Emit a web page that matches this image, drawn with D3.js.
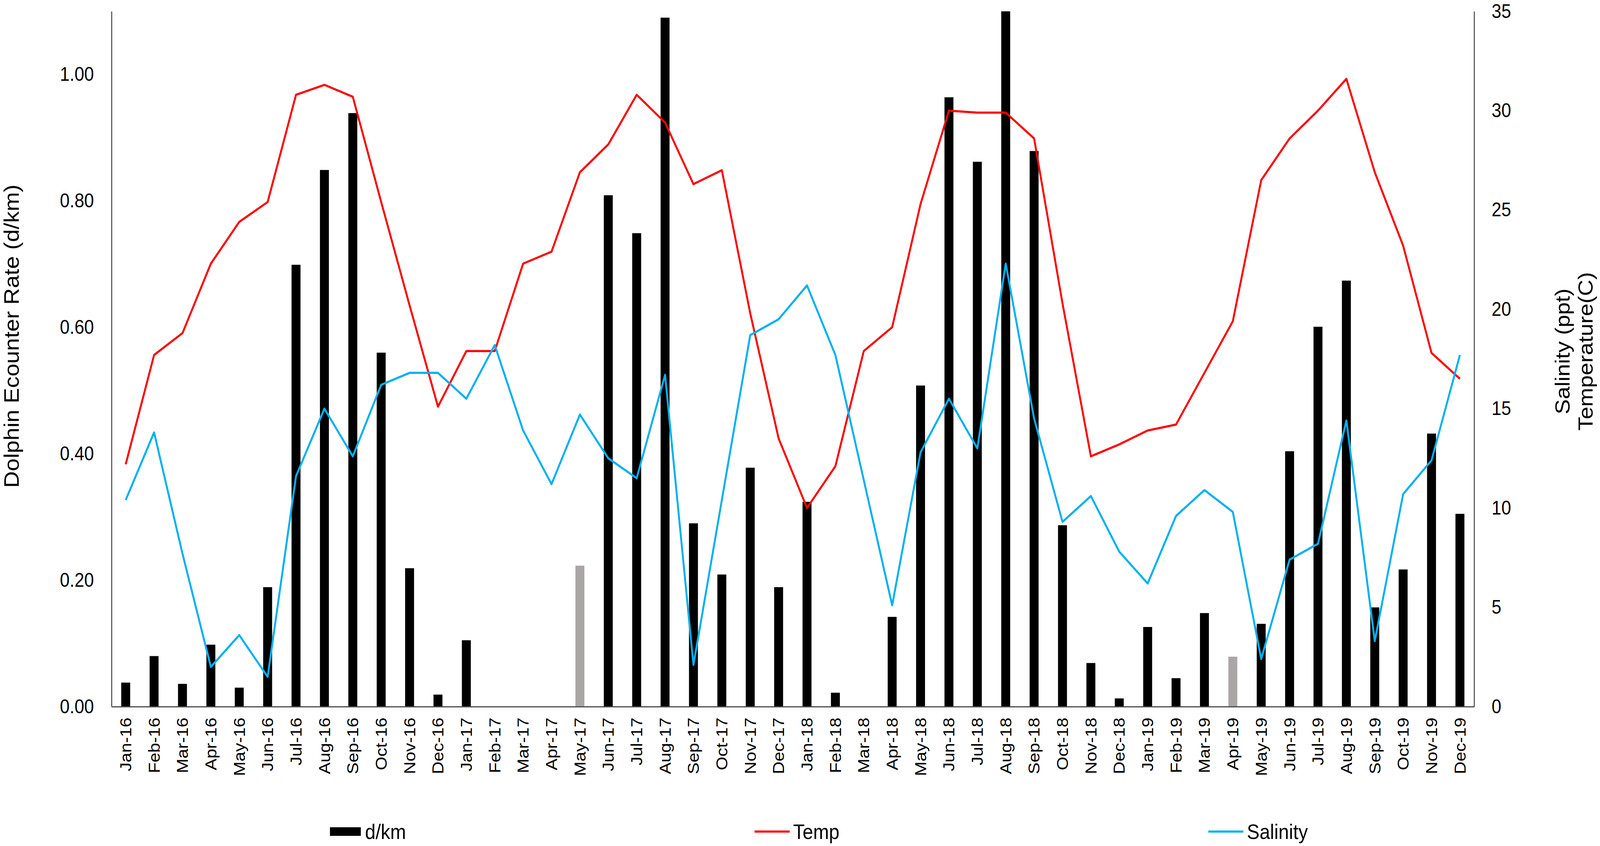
<!DOCTYPE html>
<html>
<head>
<meta charset="utf-8">
<script src="https://cdn.jsdelivr.net/npm/d3@7"></script>
<style>
  html, body { margin: 0; padding: 0; background: #fff; width: 100%; height: 100%; overflow: hidden; }
  svg { display: block; width: 100vw; height: 100vh; font-family: "Liberation Sans", Arial, sans-serif; }
</style>
</head>
<body>
<svg class="chart"></svg>
<script>
const months = [
  "Jan-16","Feb-16","Mar-16","Apr-16","May-16","Jun-16","Jul-16","Aug-16","Sep-16","Oct-16","Nov-16","Dec-16",
  "Jan-17","Feb-17","Mar-17","Apr-17","May-17","Jun-17","Jul-17","Aug-17","Sep-17","Oct-17","Nov-17","Dec-17",
  "Jan-18","Feb-18","Mar-18","Apr-18","May-18","Jun-18","Jul-18","Aug-18","Sep-18","Oct-18","Nov-18","Dec-18",
  "Jan-19","Feb-19","Mar-19","Apr-19","May-19","Jun-19","Jul-19","Aug-19","Sep-19","Oct-19","Nov-19","Dec-19"
];

// encounter rate, dolphins per km
const dkm = [
  0.038, 0.080, 0.036, 0.098, 0.030, 0.189, 0.699, 0.849, 0.939, 0.560, 0.219, 0.019,
  0.105, 0,     0,     0,     0.223, 0.809, 0.749, 1.090, 0.290, 0.209, 0.378, 0.189,
  0.324, 0.022, 0,     0.142, 0.508, 0.964, 0.862, 1.100, 0.879, 0.287, 0.069, 0.013,
  0.126, 0.045, 0.148, 0.079, 0.131, 0.404, 0.601, 0.674, 0.157, 0.217, 0.432, 0.305
];

// months drawn as grey bars
const greyMonths = ["May-17", "Apr-19"];

const temp = [
  12.2, 17.7, 18.8, 22.3, 24.4, 25.4, 30.8, 31.3, 30.7, 25.4, 20.2, 15.1,
  17.9, 17.9, 22.3, 22.9, 26.9, 28.3, 30.8, 29.4, 26.3, 27.0, 19.8, 13.5,
  10.0, 12.1, 17.9, 19.1, 25.3, 30.0, 29.9, 29.9, 28.6, 20.3, 12.6, 13.2,
  13.9, 14.2, 16.8, 19.4, 26.5, 28.6, 30.0, 31.6, 26.9, 23.2, 17.8, 16.5
];

const salinity = [
  10.4, 13.8, 7.7,  2.0,  3.6,  1.5,  11.6, 15.0, 12.6, 16.2, 16.8, 16.8,
  15.5, 18.2, 13.9, 11.2, 14.7, 12.5, 11.5, 16.7, 2.1,  10.4, 18.7, 19.5,
  21.2, 17.7, 11.4, 5.1,  12.8, 15.5, 13.0, 22.3, 14.5, 9.3,  10.6, 7.8,
  6.2,  9.6,  10.9, 9.8,  2.4,  7.4,  8.2,  14.4, 3.3,  10.7, 12.4, 17.7
];

const leftTicks = [0, 0.2, 0.4, 0.6, 0.8, 1.0];
const rightTicks = [0, 5, 10, 15, 20, 25, 30, 35];
const legendItems = ["d/km", "Temp", "Salinity"];

const width = 4563;
const height = 2167;
const margin = {top: 29, right: 359, bottom: 357, left: 318};

// stretch to fill whatever the viewport is
const svg = d3.select('.chart')
  .attr('viewBox', [0, 0, width, height])
  .attr('preserveAspectRatio', 'none');

svg.append('rect')
  .attr('width', width)
  .attr('height', height)
  .attr('fill', '#fff');

const x = d3.scaleBand()
  .domain(months)
  .range([margin.left, width - margin.right])
  .padding(0);

const yLeft = d3.scaleLinear()
  .domain([0, 1.1])
  .range([height - margin.bottom, margin.top]);

const yRight = d3.scaleLinear()
  .domain([0, 35])
  .range([height - margin.bottom, margin.top]);

const barW = x.bandwidth() * 0.315;
const cx = m => x(m) + x.bandwidth() / 2;

// bars
svg.append('g')
  .selectAll('rect')
  .data(months.map((m, i) => ({m, v: dkm[i]})))
  .join('rect')
  .attr('x', d => cx(d.m) - barW / 2)
  .attr('y', d => yLeft(d.v))
  .attr('width', barW)
  .attr('height', d => yLeft(0) - yLeft(d.v))
  .attr('fill', d => greyMonths.includes(d.m) ? '#aaa6a6' : '#000');

// lines
const line = d3.line()
  .x(d => cx(d.m))
  .y(d => yRight(d.v));

svg.append('path')
  .datum(months.map((m, i) => ({m, v: temp[i]})))
  .attr('fill', 'none')
  .attr('stroke', '#ff0000')
  .attr('stroke-width', 5.5)
  .attr('stroke-linejoin', 'round')
  .attr('d', line);

svg.append('path')
  .datum(months.map((m, i) => ({m, v: salinity[i]})))
  .attr('fill', 'none')
  .attr('stroke', '#00b0f0')
  .attr('stroke-width', 5.5)
  .attr('stroke-linejoin', 'round')
  .attr('d', line);

// axes
const axisColor = '#4d4d4d';

const gLeft = svg.append('g')
  .attr('transform', `translate(${margin.left},0)`)
  .call(d3.axisLeft(yLeft).tickValues(leftTicks).tickFormat(d3.format('.2f')).tickSize(0).tickPadding(50));

const gRight = svg.append('g')
  .attr('transform', `translate(${width - margin.right},0)`)
  .call(d3.axisRight(yRight).tickValues(rightTicks).tickSize(0).tickPadding(50));

const gBottom = svg.append('g')
  .attr('transform', `translate(0,${height - margin.bottom})`)
  .call(d3.axisBottom(x).tickSize(0).tickSizeOuter(0));

[gLeft, gRight, gBottom].forEach(g => {
  g.select('.domain')
    .attr('stroke', axisColor)
    .attr('stroke-width', 3);
  g.selectAll('text')
    .attr('fill', '#000')
    .style('font-family', '"Liberation Sans", Arial, sans-serif');
});

gLeft.selectAll('text').style('font-size', '50px');
gRight.selectAll('text').style('font-size', '50px');

gBottom.selectAll('text')
  .style('font-size', '45px')
  .attr('text-anchor', 'end')
  .attr('dy', '0.35em')
  .attr('y', 0)
  .attr('transform', 'translate(0,28) rotate(-90)');

// axis titles
svg.append('text')
  .attr('transform', `translate(54,861) rotate(-90)`)
  .attr('text-anchor', 'middle')
  .style('font-size', '59px')
  .text('Dolphin Ecounter Rate (d/km)');

svg.append('text')
  .attr('transform', `translate(4476,900) rotate(-90)`)
  .attr('text-anchor', 'middle')
  .style('font-size', '58px')
  .text('Salinity (ppt)');

svg.append('text')
  .attr('transform', `translate(4542,900) rotate(-90)`)
  .attr('text-anchor', 'middle')
  .style('font-size', '58px')
  .text('Temperature(C)');

// legend
const legendY = 2130;
const legendX = [941, 2152, 3446];
const legend = svg.append('g')
  .selectAll('g')
  .data(legendItems)
  .join('g')
  .attr('transform', (d, i) => `translate(${legendX[i]},${legendY})`);

legend.each(function(d, i) {
  const g = d3.select(this);
  if (i === 0) {
    g.append('rect')
      .attr('x', 0)
      .attr('y', -11)
      .attr('width', 88)
      .attr('height', 22)
      .attr('fill', '#000');
  } else {
    g.append('line')
      .attr('x1', 0)
      .attr('x2', 100)
      .attr('stroke', i === 1 ? '#ff0000' : '#00b0f0')
      .attr('stroke-width', 5.5);
  }
  g.append('text')
    .attr('x', i === 0 ? 100 : 110)
    .attr('dy', '0.35em')
    .style('font-size', '54px')
    .text(d);
});
</script>
</body>
</html>
